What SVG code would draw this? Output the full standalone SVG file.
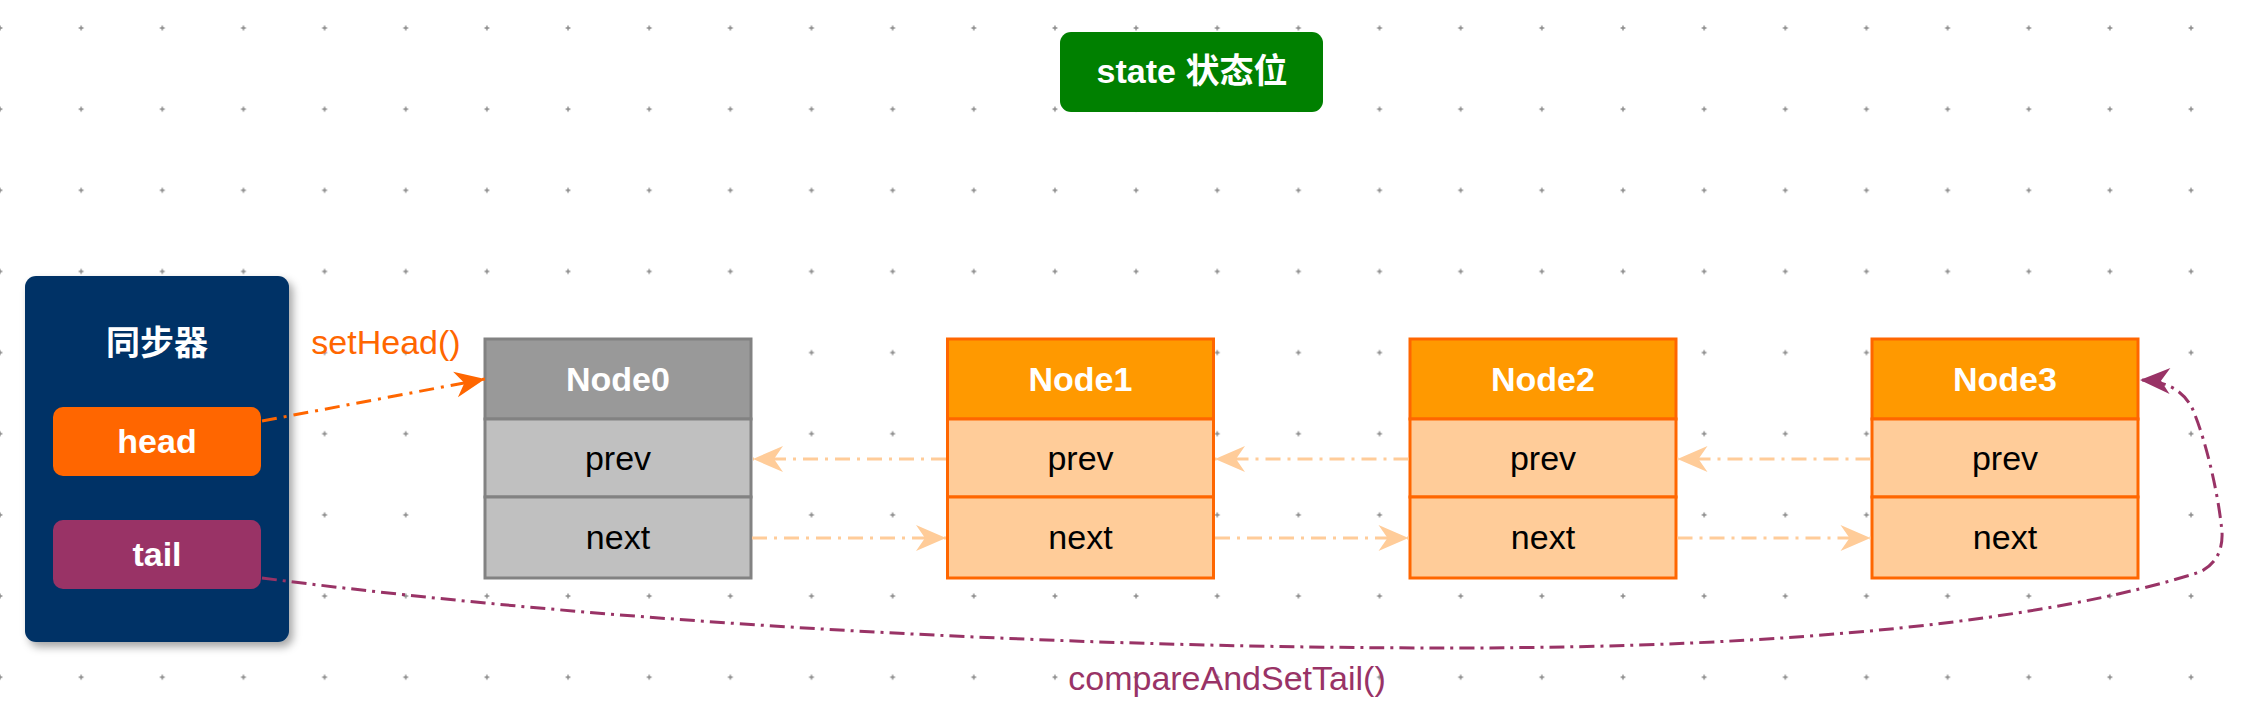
<svg xmlns="http://www.w3.org/2000/svg" width="2256" height="722" viewBox="0 0 2256 722">
<defs>
  <pattern id="grid" patternUnits="userSpaceOnUse" x="-40.575" y="-12.575" width="81.15" height="81.15">
    <path d="M38.2 40.575h4.75M40.575 38.2v4.75" stroke="#8a8a8a" stroke-width="1.4" fill="none"/>
  </pattern>
  <marker id="arOrange" markerUnits="userSpaceOnUse" viewBox="-32 -15 34 30" refX="0" refY="0" markerWidth="34" markerHeight="30" orient="auto">
    <path d="M0,0 L-30,-13 L-21,0 L-30,13 Z" fill="#FF6600"/>
  </marker>
  <marker id="arPeach" markerUnits="userSpaceOnUse" viewBox="-32 -15 34 30" refX="0" refY="0" markerWidth="34" markerHeight="30" orient="auto">
    <path d="M0,0 L-30,-13 L-21,0 L-30,13 Z" fill="#FFCC99"/>
  </marker>
  <marker id="arPlum" markerUnits="userSpaceOnUse" viewBox="-32 -15 34 30" refX="0" refY="0" markerWidth="34" markerHeight="30" orient="auto">
    <path d="M0,0 L-30,-13 L-21,0 L-30,13 Z" fill="#993366"/>
  </marker>
  <filter id="shadow" x="-20%" y="-20%" width="150%" height="150%">
    <feDropShadow dx="4" dy="5" stdDeviation="4" flood-color="#000" flood-opacity="0.35"/>
  </filter>
</defs>
<style>
  text { font-family: "Liberation Sans", "Noto Sans CJK SC", sans-serif; font-size: 34px; text-anchor: middle; }
  .w { fill: #ffffff; font-weight: bold; }
  .b { fill: #000000; }
  .g0 { fill: #999999; stroke: #828282; stroke-width: 3; }
  .g1 { fill: #C0C0C0; stroke: #828282; stroke-width: 3; }
  .o0 { fill: #FF9900; stroke: #FF6600; stroke-width: 3; }
  .o1 { fill: #FFCC99; stroke: #FF6600; stroke-width: 3; }
  .peach { fill: none; stroke: #FFCC99; stroke-width: 3; stroke-dasharray: 15 7 3 7; marker-end: url(#arPeach); }
</style>
<rect x="0" y="0" width="2256" height="722" fill="#ffffff"/>
<rect x="0" y="0" width="2256" height="722" fill="url(#grid)"/>

<g id="state">
  <rect x="1060" y="32" width="263" height="80" rx="11" fill="#008000"/>
  <text class="w" x="1192" y="83">state 状态位</text>
</g>

<g id="sync">
  <rect x="25" y="276" width="264" height="366" rx="11" fill="#003366" filter="url(#shadow)"/>
  <text class="w" x="157" y="355">同步器</text>
  <g id="head">
    <rect x="53" y="407" width="208" height="69" rx="10" fill="#FF6600"/>
    <text class="w" x="157" y="453">head</text>
  </g>
  <g id="tail">
    <rect x="53" y="520" width="208" height="69" rx="10" fill="#993366"/>
    <text class="w" x="157" y="566">tail</text>
  </g>
</g>

<g id="node0">
  <rect class="g0" x="485" y="339" width="266" height="80"/>
  <rect class="g1" x="485" y="419" width="266" height="78"/>
  <rect class="g1" x="485" y="497" width="266" height="81"/>
  <text class="w" x="618" y="391">Node0</text>
  <text class="b" x="618" y="470">prev</text>
  <text class="b" x="618" y="549">next</text>
</g>
<g id="node1">
  <rect class="o0" x="947.5" y="339" width="266" height="80"/>
  <rect class="o1" x="947.5" y="419" width="266" height="78"/>
  <rect class="o1" x="947.5" y="497" width="266" height="81"/>
  <text class="w" x="1080.5" y="391">Node1</text>
  <text class="b" x="1080.5" y="470">prev</text>
  <text class="b" x="1080.5" y="549">next</text>
</g>
<g id="node2">
  <rect class="o0" x="1410" y="339" width="266" height="80"/>
  <rect class="o1" x="1410" y="419" width="266" height="78"/>
  <rect class="o1" x="1410" y="497" width="266" height="81"/>
  <text class="w" x="1543" y="391">Node2</text>
  <text class="b" x="1543" y="470">prev</text>
  <text class="b" x="1543" y="549">next</text>
</g>
<g id="node3">
  <rect class="o0" x="1872" y="339" width="266" height="80"/>
  <rect class="o1" x="1872" y="419" width="266" height="78"/>
  <rect class="o1" x="1872" y="497" width="266" height="81"/>
  <text class="w" x="2005" y="391">Node3</text>
  <text class="b" x="2005" y="470">prev</text>
  <text class="b" x="2005" y="549">next</text>
</g>

<g id="connectors">
  <path d="M262,421 L485,379" fill="none" stroke="#FF6600" stroke-width="3" stroke-dasharray="15 7 3 7" marker-end="url(#arOrange)"/>
  <text x="386" y="354" fill="#FF6600">setHead()</text>

  <path class="peach" d="M946,459 L753,459"/>
  <path class="peach" d="M752,538 L946,538"/>
  <path class="peach" d="M1408.5,459 L1215,459"/>
  <path class="peach" d="M1215,538 L1408.5,538"/>
  <path class="peach" d="M1870.5,459 L1677.5,459"/>
  <path class="peach" d="M1677.5,538 L1870.5,538"/>

  <path d="M262,578 C650,628 1100,648 1450,648 C1800,648 2050,620 2200,572 C2216,564 2223,550 2222,532 C2218,490 2205,440 2195,415 C2188,395 2172,381 2140,380" fill="none" stroke="#993366" stroke-width="3" stroke-dasharray="15 6 3 6" marker-end="url(#arPlum)"/>
  <text x="1227" y="690" fill="#993366">compareAndSetTail()</text>
</g>
</svg>
